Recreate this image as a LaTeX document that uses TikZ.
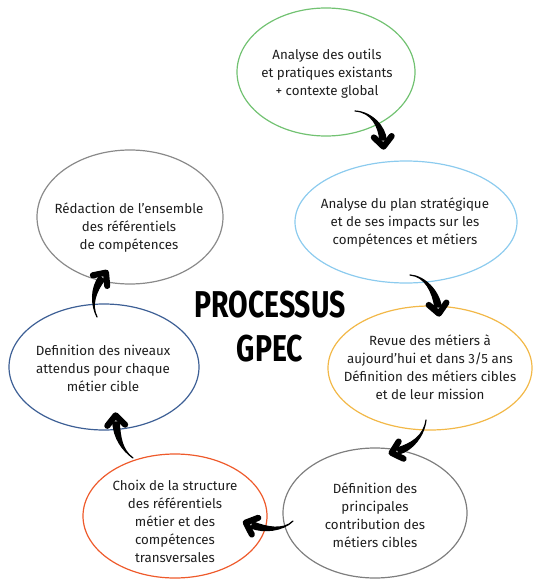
\documentclass[tikz,border=0pt]{standalone}
\usepackage{fontspec}
\setmainfont{Fira Sans}
\newfontfamily\titlefont[FakeStretch=0.76,UprightFont={* Bold}]{Fira Sans}
\usetikzlibrary{shapes.geometric,calc}
\definecolor{cgreen}{HTML}{72C272}
\definecolor{cblue}{HTML}{8CCBEE}
\definecolor{corange}{HTML}{F2B848}
\definecolor{cgrayA}{HTML}{7E7E7E}
\definecolor{cred}{HTML}{EE5A2B}
\definecolor{cnavy}{HTML}{3D5F95}
\definecolor{cgrayB}{HTML}{8A8A8A}
\definecolor{ctext}{HTML}{1E1E1E}
\def\aw{2.4pt}
\newcommand\taperarrow[4]{%
  \fill[black,draw=black,line width=0.9pt,line join=round] (#1) .. controls (#2) and ($(#3)!\aw!-90:(#4)$) .. ($(#4)!\aw!90:(#3)$) -- ($(#4)!\aw!-90:(#3)$) .. controls ($(#3)!\aw!90:(#4)$) and (#2) .. (#1) -- cycle;
  \draw[black,line width=4.6pt,line cap=round,line join=round] ($($(#4)!-5pt!(#3)$)!10pt!42:(#3)$) -- ($(#4)!-5pt!(#3)$) -- ($($(#4)!-5pt!(#3)$)!10pt!-42:(#3)$);
}
\tikzset{
  bubble/.style={ellipse,draw,line width=0.9pt,inner sep=0pt},
  btext/.style={align=center,text=ctext,font=\fontsize{10pt}{13.5pt}\selectfont,inner sep=0pt},
}
\begin{document}
\begin{tikzpicture}[x=0.75pt,y=-0.75pt]
\useasboundingbox (0,0) rectangle (540,588);
% ellipses
\node[bubble,draw=cgreen,minimum width=133.5pt,minimum height=96pt] (e1) at (326,72) {};
\node[bubble,draw=cblue,minimum width=166.5pt,minimum height=91.5pt] (e2) at (406,222) {};
\node[bubble,draw=corange,minimum width=153pt,minimum height=93pt] (e3) at (430,368) {};
\node[bubble,draw=cgrayA,minimum width=138pt,minimum height=97.5pt] (e4) at (375,513) {};
\node[bubble,draw=cred,minimum width=138pt,minimum height=93pt] (e5) at (175,516) {};
\node[bubble,draw=cnavy,minimum width=142.5pt,minimum height=94.5pt] (e6) at (104,367) {};
\node[bubble,draw=cgrayB,minimum width=139.5pt,minimum height=100.5pt] (e7) at (130,217) {};
% texts
\node[btext] (t1) at (327,74) {Analyse des outils\\et pratiques existants\\+ contexte global};
\node[btext] (t2) at (405,223) {Analyse du plan stratégique\\et de ses impacts sur les\\compétences et métiers};
\node[btext] (t3) at (430,367) {Revue des métiers à\\aujourd’hui et dans 3/5 ans\\Définition des métiers cibles\\et de leur mission};
\node[btext] (t4) at (375,515) {Définition des\\principales\\contribution des\\métiers cibles};
\node[btext] (t5) at (175,521) {Choix de la structure\\des référentiels\\métier et des\\compétences\\transversales};
\node[btext] (t6) at (103,368) {Definition des niveaux\\attendus pour chaque\\métier cible};
\node[btext] (t7) at (129,228) {Rédaction de l’ensemble\\des référentiels\\de compétences};
% title
\node[align=center,inner sep=0pt,font=\titlefont\fontsize{28pt}{33pt}\selectfont] (title) at (270,327) {PROCESSUS\\GPEC};
% arrow coordinates
\coordinate (a1s) at (355,111); \coordinate (a1c) at (372,112); \coordinate (a1d) at (382,127); \coordinate (a1t) at (383,140);
\coordinate (a2s) at (410,275); \coordinate (a2c) at (425,276); \coordinate (a2d) at (436,292); \coordinate (a2t) at (438,307);
\coordinate (a3s) at (426,420); \coordinate (a3c) at (424,436); \coordinate (a3d) at (412,447); \coordinate (a3t) at (398,451);
\coordinate (a4s) at (293,521); \coordinate (a4c) at (283,531); \coordinate (a4d) at (265,530); \coordinate (a4t) at (252,525);
\coordinate (a5s) at (133,458); \coordinate (a5c) at (122,450); \coordinate (a5d) at (117,438); \coordinate (a5t) at (116,422);
\coordinate (a6s) at (97,317); \coordinate (a6c) at (91,305); \coordinate (a6d) at (93,290); \coordinate (a6t) at (102,278);
\taperarrow{a1s}{a1c}{a1d}{a1t}
\taperarrow{a2s}{a2c}{a2d}{a2t}
\taperarrow{a3s}{a3c}{a3d}{a3t}
\taperarrow{a4s}{a4c}{a4d}{a4t}
\taperarrow{a5s}{a5c}{a5d}{a5t}
\taperarrow{a6s}{a6c}{a6d}{a6t}
\end{tikzpicture}
\end{document}
